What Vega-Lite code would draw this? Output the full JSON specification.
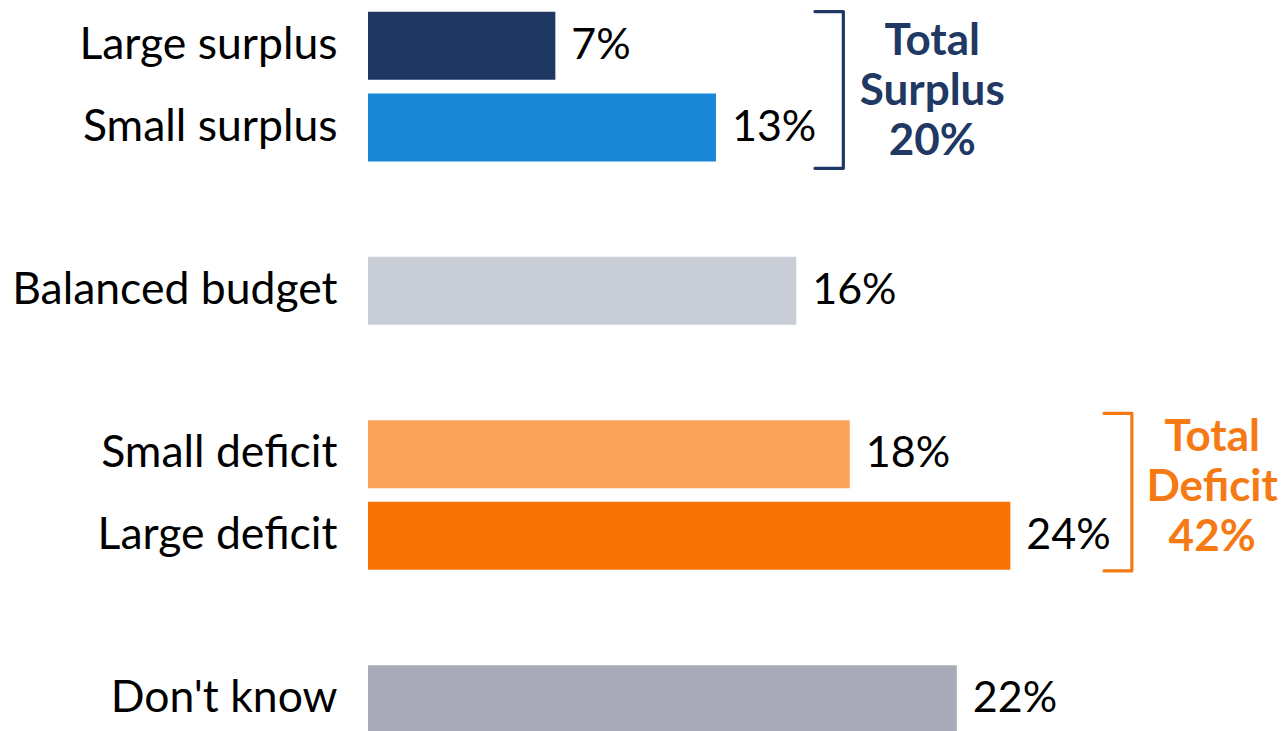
{
  "$schema": "https://vega.github.io/schema/vega-lite/v6.json",
  "autosize": "none",
  "width": 910,
  "height": 735,
  "padding": {"left": 368, "top": 5, "right": 4, "bottom": 0},
  "background": "white",
  "config": {"view": {"stroke": null}, "font": "Lato"},
  "datasets": {
    "bars": [
      {"category": "Large surplus", "pct": 7, "label": "7%"},
      {"category": "Small surplus", "pct": 13, "label": "13%"},
      {"category": "Balanced budget", "pct": 16, "label": "16%"},
      {"category": "Small deficit", "pct": 18, "label": "18%"},
      {"category": "Large deficit", "pct": 24, "label": "24%"},
      {"category": "Don't know", "pct": 22, "label": "22%"}
    ],
    "brackets": [
      {"group": "Surplus", "step": 1, "x": 16.7, "row": -0.42},
      {"group": "Surplus", "step": 2, "x": 17.76, "row": -0.42},
      {"group": "Surplus", "step": 3, "x": 17.76, "row": 1.5},
      {"group": "Surplus", "step": 4, "x": 16.7, "row": 1.5},
      {"group": "Deficit", "step": 1, "x": 27.5, "row": 4.5},
      {"group": "Deficit", "step": 2, "x": 28.54, "row": 4.5},
      {"group": "Deficit", "step": 3, "x": 28.54, "row": 6.43},
      {"group": "Deficit", "step": 4, "x": 27.5, "row": 6.43}
    ],
    "totals": [
      {"group": "Surplus", "x": 21.08, "row": -0.05, "label": "Total\nSurplus\n20%"},
      {"group": "Deficit", "x": 31.54, "row": 4.8, "label": "Total\nDeficit\n42%"}
    ]
  },
  "layer": [
    {
      "data": {"name": "bars"},
      "encoding": {
        "y": {
          "field": "category",
          "type": "nominal",
          "scale": {
            "domain": ["Large surplus", "Small surplus", " ", "Balanced budget", "  ", "Small deficit", "Large deficit", "   ", "Don't know"],
            "paddingInner": 0.167,
            "paddingOuter": 0.0835
          },
          "axis": {
            "title": null,
            "ticks": false,
            "domain": false,
            "labelFontSize": 44.5,
            "labelColor": "#000000",
            "labelPadding": 31,
            "labelLimit": 400
          }
        },
        "x": {"field": "pct", "type": "quantitative", "scale": {"domain": [0, 34], "nice": false}, "axis": null}
      },
      "layer": [
        {
          "mark": {"type": "bar"},
          "encoding": {
            "color": {
              "field": "category",
              "type": "nominal",
              "scale": {
                "domain": ["Large surplus", "Small surplus", "Balanced budget", "Small deficit", "Large deficit", "Don't know"],
                "range": ["#1F3763", "#1A87D6", "#C9CDD6", "#FBA35A", "#F87306", "#A9ABB8"]
              },
              "legend": null
            }
          }
        },
        {
          "mark": {"type": "text", "align": "left", "baseline": "middle", "dx": 16, "fontSize": 43, "color": "#000000"},
          "encoding": {"text": {"field": "label"}}
        }
      ]
    },
    {
      "data": {"name": "brackets"},
      "mark": {"type": "line", "strokeWidth": 3.2, "strokeJoin": "round", "strokeCap": "round"},
      "encoding": {
        "x": {"field": "x", "type": "quantitative"},
        "y": {"field": "row", "type": "quantitative", "scale": {"domain": [-0.5, 8.5], "reverse": true, "nice": false, "zero": false}, "axis": null},
        "order": {"field": "step"},
        "detail": {"field": "group"},
        "stroke": {"field": "group", "type": "nominal", "scale": {"domain": ["Surplus", "Deficit"], "range": ["#1F3864", "#F57A14"]}, "legend": null}
      }
    },
    {
      "data": {"name": "totals"},
      "mark": {"type": "text", "align": "center", "baseline": "middle", "fontSize": 44, "fontWeight": "bold", "lineBreak": "\n", "lineHeight": 50},
      "encoding": {
        "x": {"field": "x", "type": "quantitative"},
        "y": {"field": "row", "type": "quantitative", "scale": {"domain": [-0.5, 8.5], "reverse": true, "nice": false, "zero": false}, "axis": null},
        "text": {"field": "label"},
        "fill": {"field": "group", "type": "nominal", "scale": {"domain": ["Surplus", "Deficit"], "range": ["#1F3864", "#F57A14"]}, "legend": null}
      }
    }
  ],
  "resolve": {"scale": {"y": "independent"}}
}
